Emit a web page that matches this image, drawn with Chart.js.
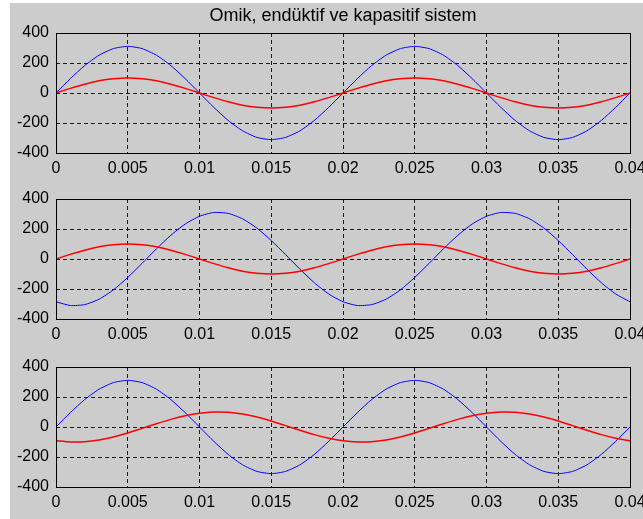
<!DOCTYPE html>
<html>
<head>
<meta charset="utf-8">
<script src="https://cdn.jsdelivr.net/npm/chart.js@4/dist/chart.umd.min.js"></script>
<style>
  body { margin: 0; background: #fff; }
  #fig { position: absolute; left: 10px; top: 3px; width: 633px; height: 516px; background: #cccccc; }
  canvas { position: absolute; left: 0; }
</style>
</head>
<body>
<div id="fig"></div>
<canvas id="c1" width="643" height="180" style="top:0px"></canvas>
<canvas id="c2" width="643" height="180" style="top:166px"></canvas>
<canvas id="c3" width="643" height="180" style="top:334px"></canvas>
<script>
const title = 'Omik, endüktif ve kapasitif sistem';

// time axis, 1 ms step over two periods of 50 Hz
const time = [0, 0.001, 0.002, 0.003, 0.004, 0.005, 0.006, 0.007, 0.008, 0.009,
  0.010, 0.011, 0.012, 0.013, 0.014, 0.015, 0.016, 0.017, 0.018, 0.019,
  0.020, 0.021, 0.022, 0.023, 0.024, 0.025, 0.026, 0.027, 0.028, 0.029,
  0.030, 0.031, 0.032, 0.033, 0.034, 0.035, 0.036, 0.037, 0.038, 0.039, 0.040];

const xTicks = [0, 0.005, 0.01, 0.015, 0.02, 0.025, 0.03, 0.035, 0.04];
const yTicks = [-400, -200, 0, 200, 400];

// omik
const blue1 = [0, 96, 183, 252, 296, 311, 296, 252, 183, 96, 0, -96, -183, -252, -296, -311, -296, -252, -183, -96,
  0, 96, 183, 252, 296, 311, 296, 252, 183, 96, 0, -96, -183, -252, -296, -311, -296, -252, -183, -96, 0];
const red1 = [0, 31, 59, 81, 95, 100, 95, 81, 59, 31, 0, -31, -59, -81, -95, -100, -95, -81, -59, -31,
  0, 31, 59, 81, 95, 100, 95, 81, 59, 31, 0, -31, -59, -81, -95, -100, -95, -81, -59, -31, 0];

// endüktif
const blue2 = [-285, -310, -304, -268, -206, -123, -29, 68, 158, 233, 285, 310, 304, 268, 206, 123, 29, -68, -158, -233,
  -285, -310, -304, -268, -206, -123, -29, 68, 158, 233, 285, 310, 304, 268, 206, 123, 29, -68, -158, -233, -285];
const red2 = [0, 31, 59, 81, 95, 100, 95, 81, 59, 31, 0, -31, -59, -81, -95, -100, -95, -81, -59, -31,
  0, 31, 59, 81, 95, 100, 95, 81, 59, 31, 0, -31, -59, -81, -95, -100, -95, -81, -59, -31, 0];

// kapasitif
const blue3 = [0, 96, 183, 252, 296, 311, 296, 252, 183, 96, 0, -96, -183, -252, -296, -311, -296, -252, -183, -96,
  0, 96, 183, 252, 296, 311, 296, 252, 183, 96, 0, -96, -183, -252, -296, -311, -296, -252, -183, -96, 0];
const red3 = [-92, -100, -98, -86, -66, -40, -9, 22, 51, 75, 92, 100, 98, 86, 66, 40, 9, -22, -51, -75,
  -92, -100, -98, -86, -66, -40, -9, 22, 51, 75, 92, 100, 98, 86, 66, 40, 9, -22, -51, -75, -92];

Chart.defaults.font.family = "'Liberation Sans', Arial, sans-serif";
Chart.defaults.font.size = 16;
Chart.defaults.color = '#000';

// black frame round the plot area, like matlab's "box on"
const boxPlugin = {
  id: 'box',
  afterDraw(chart) {
    const a = chart.chartArea;
    const ctx = chart.ctx;
    ctx.save();
    ctx.strokeStyle = '#000';
    ctx.lineWidth = 1;
    ctx.strokeRect(Math.round(a.left) + 0.5, Math.round(a.top) + 0.5,
      Math.round(a.right - a.left), Math.round(a.bottom - a.top));
    ctx.restore();
  }
};

const titlePlugin = {
  id: 'figTitle',
  afterDraw(chart, args, opts) {
    if (!opts.text) return;
    const a = chart.chartArea;
    const ctx = chart.ctx;
    ctx.save();
    ctx.font = "18px 'Liberation Sans', Arial, sans-serif";
    ctx.fillStyle = '#000';
    ctx.textAlign = 'center';
    ctx.textBaseline = 'middle';
    ctx.fillText(opts.text, (a.left + a.right) / 2, 16);
    ctx.restore();
  }
};

function toPoints(ys) {
  return time.map((t, i) => ({ x: t, y: ys[i] }));
}

function makeChart(id, blue, red, heading) {
  return new Chart(document.getElementById(id), {
    type: 'line',
    data: {
      datasets: [
        { data: toPoints(red), borderColor: '#ff0000', borderWidth: 1.5, pointRadius: 0, tension: 0.2 },
        { data: toPoints(blue), borderColor: '#0000ff', borderWidth: 1, pointRadius: 0, tension: 0.2 }
      ]
    },
    options: {
      responsive: false,
      animation: false,
      layout: { padding: { left: 0, right: 13, top: 33, bottom: 0 } },
      plugins: {
        legend: { display: false },
        tooltip: { enabled: false },
        figTitle: { text: heading }
      },
      scales: {
        x: {
          type: 'linear',
          min: 0,
          max: 0.04,
          afterBuildTicks: s => { s.ticks = xTicks.map(v => ({ value: v })); },
          afterFit: s => { s.height = 27; s.paddingLeft = 0; s.paddingRight = 0; },
          ticks: { padding: 6, maxRotation: 0, autoSkip: false, callback: v => String(v) },
          grid: { color: '#1a1a1a', drawTicks: false },
          border: { display: false, dash: [4, 3] }
        },
        y: {
          min: -400,
          max: 400,
          afterBuildTicks: s => { s.ticks = yTicks.map(v => ({ value: v })); },
          afterFit: s => { s.width = 56; },
          ticks: { padding: 7, callback: v => String(v) },
          grid: { color: '#1a1a1a', drawTicks: false },
          border: { display: false, dash: [4, 3] }
        }
      }
    },
    plugins: [boxPlugin, titlePlugin]
  });
}

makeChart('c1', blue1, red1, title);
makeChart('c2', blue2, red2, '');
makeChart('c3', blue3, red3, '');
</script>
</body>
</html>
